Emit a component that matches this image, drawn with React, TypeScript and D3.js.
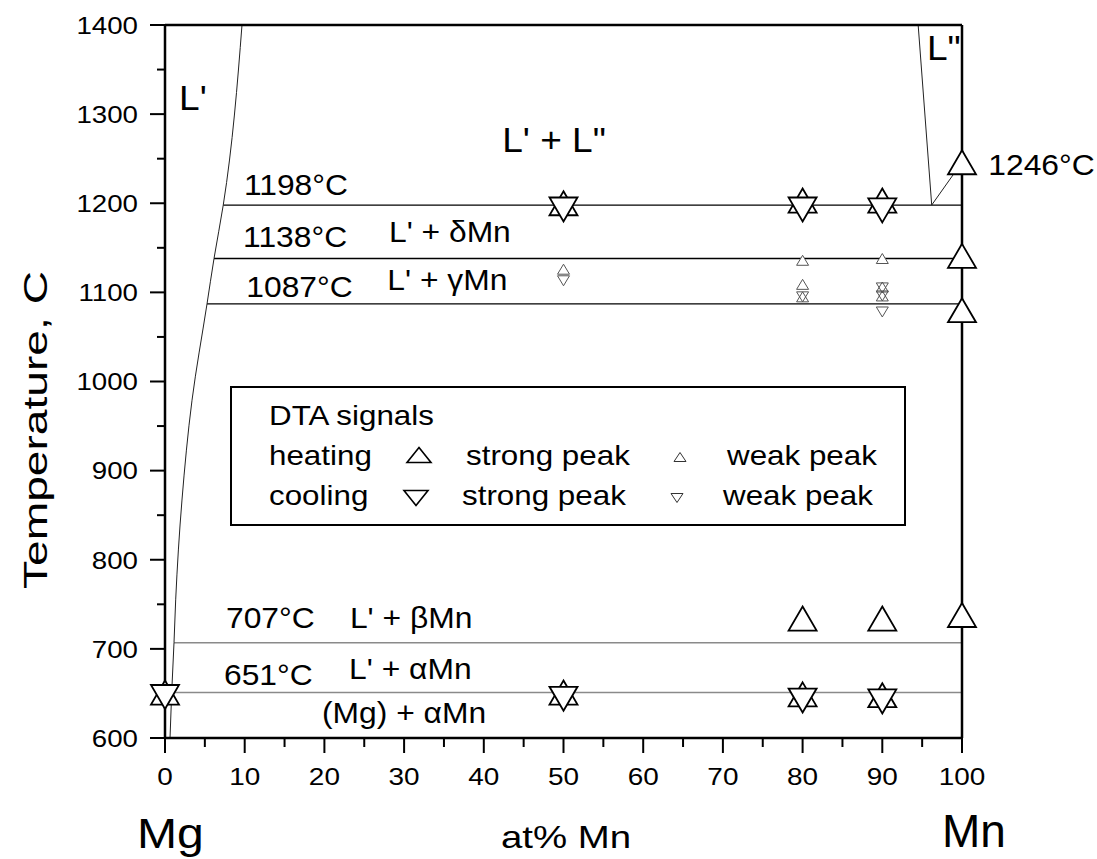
import React from "react";
import * as d3 from "d3";

// ---- data ----
const xTicks = [0, 10, 20, 30, 40, 50, 60, 70, 80, 90, 100];
const yTicks = [600, 700, 800, 900, 1000, 1100, 1200, 1300, 1400];

// phase boundary (L' liquidus, Mg-rich side) [at% Mn, T]
const liquidusLeft: [number, number][] = [
  [9.66, 1400], [7.31, 1198], [6.15, 1138], [5.27, 1087],
  [3.39, 979], [2.13, 867], [1.34, 755], [1.13, 707], [0.84, 651], [0.63, 600],
];
// L'' boundary (Mn-rich side)
const liquidusRight: [number, number][] = [[94.5, 1400], [96.2, 1198], [100, 1246]];

// invariant horizontal lines: [temperature, start at%]
const invariantsBlack: [number, number][] = [[1198, 7.31], [1138, 6.15], [1087, 5.27]];
const invariantsGray: [number, number][] = [[707, 1.13], [651, 0.84]];

// DTA signals [at% Mn, T]
const heatingStrong: [number, number][] = [
  [0, 651], [50, 651], [80, 649], [90, 648],
  [50, 1200], [80, 1203], [90, 1203],
  [80, 734], [90, 734], [100, 738],
  [100, 1080], [100, 1141], [100, 1246],
];
const coolingStrong: [number, number][] = [
  [0, 646], [50, 644], [80, 642], [90, 641],
  [50, 1193], [80, 1193], [90, 1192],
];
const heatingWeak: [number, number][] = [
  [50, 1126], [80, 1136], [80, 1109], [80, 1095], [90, 1138], [90, 1106], [90, 1096],
];
const coolingWeak: [number, number][] = [
  [50, 1113], [80, 1095], [90, 1105], [90, 1096], [90, 1078],
];

// annotations [text, at%, T]
const regionLabels: [string, number, number][] = [
  ["1246°C", 103.3, 1232],
  ["1198°C", 9.9, 1209],
  ["1138°C", 9.8, 1151],
  ["L' + δMn", 28.1, 1156],
  ["1087°C", 10.2, 1095],
  ["L' + γMn", 27.9, 1103],
  ["707°C", 7.65, 723],
  ["L' + βMn", 23.2, 723],
  ["651°C", 7.4, 659],
  ["L' + αMn", 23.1, 666],
  ["(Mg) + αMn", 19.7, 617],
];
const bigLabels: [string, number, number][] = [
  ["L'", 1.76, 1305],
  ["L\"", 95.6, 1361],
  ["L' + L\"", 42.3, 1257],
];

const legendRows = ["heating", "cooling"];

const W = 1097, H = 859;
const FONT = "'Liberation Sans', Arial, Helvetica, sans-serif";

const x = d3.scaleLinear().domain([0, 100]).range([165, 962]);
const y = d3.scaleLinear().domain([600, 1400]).range([738, 25]);

function tri(cx: number, cy: number, w: number, h: number, up: boolean) {
  const p = d3.path();
  if (up) {
    p.moveTo(cx, cy - h / 2);
    p.lineTo(cx + w / 2, cy + h / 2);
    p.lineTo(cx - w / 2, cy + h / 2);
  } else {
    p.moveTo(cx, cy + h / 2);
    p.lineTo(cx + w / 2, cy - h / 2);
    p.lineTo(cx - w / 2, cy - h / 2);
  }
  p.closePath();
  return p.toString();
}

function Txt(props: { x: number; y: number; size: number; sx?: number; anchor?: string; dy?: string; children: any }) {
  const { x: tx, y: ty, size, sx = 1, anchor = "start", dy, children } = props;
  return (
    <text transform={`translate(${tx},${ty}) scale(${sx},1)`} fontSize={size} textAnchor={anchor} dy={dy} fill="#000">
      {children}
    </text>
  );
}

export default function App() {
  const line = d3.line<[number, number]>().x((d) => x(d[0])).y((d) => y(d[1]));
  const smooth = d3.line<[number, number]>().x((d) => x(d[0])).y((d) => y(d[1])).curve(d3.curveMonotoneY);
  const minorY = d3.range(650, 1400, 100);
  const minorX = d3.range(5, 100, 10);
  const BW = 28, BH = 24, SW = 12, SH = 10;
  const weakAll = [
    ...heatingWeak.map((d) => ({ d, up: true })),
    ...coolingWeak.map((d) => ({ d, up: false })),
  ];

  return (
    <svg width={W} height={H} style={{ position: "absolute", left: 0, top: 0, background: "#fff" }}
      fontFamily={FONT}>
      <rect x={0} y={0} width={W} height={H} fill="#fff" />

      {/* phase lines */}
      {invariantsGray.map(([t, s], i) => (
        <line key={"g" + i} x1={x(s)} x2={x(100)} y1={y(t)} y2={y(t)} stroke="#8a8a8a" strokeWidth={1.5} />
      ))}
      {invariantsBlack.map(([t, s], i) => (
        <line key={"b" + i} x1={x(s)} x2={x(100)} y1={y(t)} y2={y(t)} stroke="#000" strokeWidth={1.3} />
      ))}
      <path d={smooth(liquidusLeft) || ""} fill="none" stroke="#222" strokeWidth={1} />
      <path d={line(liquidusRight) || ""} fill="none" stroke="#222" strokeWidth={1} />

      {/* frame */}
      <line x1={x(0)} x2={x(100)} y1={y(1400)} y2={y(1400)} stroke="#000" strokeWidth={2.5} />
      <line x1={x(100)} x2={x(100)} y1={y(1400)} y2={y(600)} stroke="#000" strokeWidth={2.5} />
      <line x1={x(0)} x2={x(100)} y1={y(600)} y2={y(600)} stroke="#000" strokeWidth={2.5} />
      <line x1={x(0)} x2={x(0)} y1={y(1400)} y2={y(600)} stroke="#000" strokeWidth={2.5} />

      {/* y ticks */}
      {yTicks.map((t) => (
        <g key={"yt" + t}>
          <line x1={x(0) - 15} x2={x(0)} y1={y(t)} y2={y(t)} stroke="#000" strokeWidth={2} />
          <Txt x={x(0) - 27} y={y(t)} dy="0.36em" anchor="end" size={24.5} sx={1.13}>{t}</Txt>
        </g>
      ))}
      {minorY.map((t) => (
        <line key={"ym" + t} x1={x(0) - 8} x2={x(0)} y1={y(t)} y2={y(t)} stroke="#000" strokeWidth={2} />
      ))}
      {/* x ticks */}
      {xTicks.map((v) => (
        <g key={"xt" + v}>
          <line x1={x(v)} x2={x(v)} y1={y(600)} y2={y(600) + 15} stroke="#000" strokeWidth={2} />
          <Txt x={x(v)} y={785} anchor="middle" size={24.5} sx={1.14}>{v}</Txt>
        </g>
      ))}
      {minorX.map((v) => (
        <line key={"xm" + v} x1={x(v)} x2={x(v)} y1={y(600)} y2={y(600) + 9} stroke="#000" strokeWidth={2} />
      ))}

      {/* axis titles */}
      <text transform="translate(47,430) rotate(-90)" textAnchor="middle" fontSize={33}
        textLength={318} lengthAdjust="spacingAndGlyphs">Temperature, C</text>
      <Txt x={137} y={848} size={43} sx={1.12}>Mg</Txt>
      <Txt x={501} y={848} size={32} sx={1.2}>at% Mn</Txt>
      <Txt x={942} y={847} size={46}>Mn</Txt>

      {/* annotations */}
      {regionLabels.map(([t, a, T], i) => (
        <Txt key={"rl" + i} x={x(a)} y={y(T)} size={30} sx={1.06}>{t}</Txt>
      ))}
      {bigLabels.map(([t, a, T], i) => (
        <Txt key={"bl" + i} x={x(a)} y={y(T)} size={35} sx={1.06}>{t}</Txt>
      ))}

      {/* weak markers: fill pass then stroke pass */}
      {weakAll.map(({ d, up }, i) => (
        <path key={"wf" + i} d={tri(x(d[0]), y(d[1]), SW, SH, up)} fill="#fff" stroke="none" />
      ))}
      {weakAll.map(({ d, up }, i) => (
        <path key={"ws" + i} d={tri(x(d[0]), y(d[1]), SW, SH, up)} fill="none" stroke="#555" strokeWidth={1} />
      ))}

      {/* strong markers */}
      {heatingStrong.map((d, i) => (
        <path key={"hs" + i} d={tri(x(d[0]), y(d[1]), BW, BH, true)} fill="#fff" stroke="#000" strokeWidth={1.8} />
      ))}
      {coolingStrong.map((d, i) => (
        <path key={"cs" + i} d={tri(x(d[0]), y(d[1]), BW, BH, false)} fill="#fff" stroke="#000" strokeWidth={1.8} />
      ))}

      {/* legend */}
      <rect x={231} y={387} width={674} height={138} fill="#fff" stroke="#000" strokeWidth={2} />
      <Txt x={269} y={425} size={28} sx={1.12}>DTA signals</Txt>
      {legendRows.map((r, i) => {
        const by = 465 + i * 40;
        const up = i === 0;
        return (
          <g key={"lg" + r}>
            <Txt x={269} y={by} size={28} sx={1.12}>{r}</Txt>
            <path d={tri(up ? 419 : 416, by - (up ? 10 : 7), 24, 15, up)} fill="none" stroke="#000" strokeWidth={1.6} />
            <Txt x={up ? 466 : 462} y={by} size={28} sx={1.12}>strong peak</Txt>
            <path d={tri(up ? 680 : 677, by - (up ? 8 : 7), 12, 9, up)} fill="none" stroke="#333" strokeWidth={1} />
            <Txt x={up ? 727 : 723} y={by} size={28} sx={1.12}>weak peak</Txt>
          </g>
        );
      })}
    </svg>
  );
}
